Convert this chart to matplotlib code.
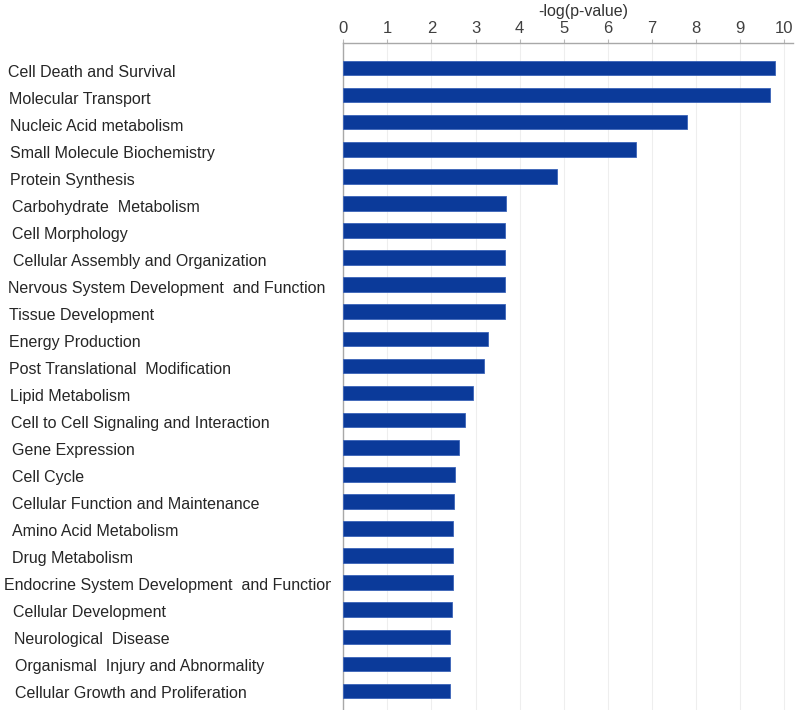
import matplotlib
matplotlib.use("Agg")
import matplotlib.pyplot as plt
from matplotlib.transforms import Bbox

plt.rcParams['font.family'] = ['Liberation Sans', 'DejaVu Sans']

categories = [
    "Cell Death and Survival",
    "Molecular Transport",
    "Nucleic Acid metabolism",
    "Small Molecule Biochemistry",
    "Protein Synthesis",
    "Carbohydrate  Metabolism",
    "Cell Morphology",
    "Cellular Assembly and Organization",
    "Nervous System Development  and Function",
    "Tissue Development",
    "Energy Production",
    "Post Translational  Modification",
    "Lipid Metabolism",
    "Cell to Cell Signaling and Interaction",
    "Gene Expression",
    "Cell Cycle",
    "Cellular Function and Maintenance",
    "Amino Acid Metabolism",
    "Drug Metabolism",
    "Endocrine System Development  and Function",
    "Cellular Development",
    "Neurological  Disease",
    "Organismal  Injury and Abnormality",
    "Cellular Growth and Proliferation",
]
neg_log_p = [9.79, 9.68, 7.80, 6.65, 4.85, 3.68, 3.67, 3.67, 3.67, 3.67,
             3.29, 3.18, 2.94, 2.76, 2.62, 2.54, 2.51, 2.49, 2.49, 2.49,
             2.47, 2.43, 2.43, 2.41]
x_ticks = list(range(0, 11))

# left edge (px) of each label, the original is not perfectly aligned
label_x_px = [8, 9, 10, 10, 10, 12, 12, 13, 8, 9, 9, 9, 10, 11, 12, 12,
              12, 12, 12, 4, 13, 14, 15, 15]

fig = plt.figure(figsize=(8, 7.1), dpi=100)
W, H = 800, 710
ax = fig.add_axes([343.3 / W, 0, (793 - 343.3) / W, 1 - 43 / H])

pos = list(range(len(categories)))
ax.barh(pos, neg_log_p, height=0.54, color='#0b3a9a', edgecolor='#3a63b8',
        linewidth=0.6, zorder=3)

ax.set_xlim(0, 10.2)
ax.set_ylim(23.7, -0.92)
ax.xaxis.tick_top()
ax.set_xticks(x_ticks)
ax.tick_params(axis='x', direction='out', length=3, width=0.8, color='#b8b8b8',
               labelsize=12, labelcolor='#404040', pad=2)
ax.set_yticks([])
ax.grid(axis='x', color='#eeeeee', linewidth=0.8, zorder=0)
for s in ['right', 'bottom']:
    ax.spines[s].set_visible(False)
for s in ['top', 'left']:
    ax.spines[s].set_color('#a8a8a8')
    ax.spines[s].set_linewidth(1.0)

ax.text(5.45, 1.047, "-log(p-value)", transform=ax.get_xaxis_transform(),
        ha='center', va='center', fontsize=11.5, color='#333333')

# category labels sit a little below the bars in the original,
# and are clipped just left of the axis
clip = Bbox.from_extents(0, 0, 331, H)
for i, (name, xp) in enumerate(zip(categories, label_x_px)):
    y_px = 72.7 + i * 26.97
    t = fig.text(xp / W, 1 - y_px / H, name, ha='left', va='center',
                 fontsize=11.5, color='#262626')
    t.set_clip_box(clip)
    t.set_clip_on(True)

fig.savefig("out.png", dpi=100)
